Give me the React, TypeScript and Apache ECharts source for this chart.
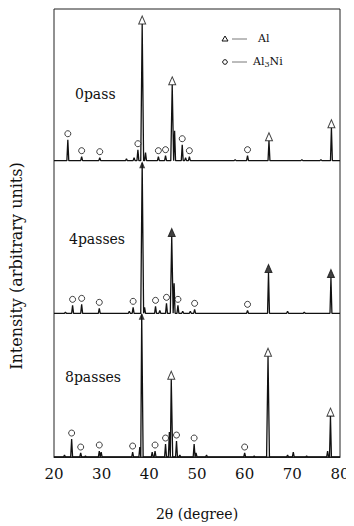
import React, { useEffect, useRef } from "react";
import * as echarts from "echarts";

// 2θ positions (degree) and peak heights (arbitrary units)
const patternNames = ["0pass", "4passes", "8passes"];
const baselines = [297, 144, 0];

// Al peaks: [2θ, height]
const al0 = [[38.5, 137], [44.8, 76], [65.1, 20], [78.2, 33]];
const al4 = [[38.5, 151], [44.7, 77], [65.0, 41], [78.1, 36]];
const al8 = [[38.4, 143], [44.6, 78], [64.9, 101], [78.0, 41]];

// Al3Ni peaks: [2θ, height]
const ni0 = [[22.9, 21], [25.8, 4], [29.6, 3], [37.6, 11], [41.9, 4], [43.4, 5], [46.9, 16], [48.4, 4], [60.6, 5]];
const ni4 = [[23.9, 8], [25.8, 9], [29.5, 5], [36.6, 6], [41.3, 7], [43.6, 10], [46.0, 8], [49.5, 4], [60.6, 3]];
const ni8 = [[23.7, 18], [25.6, 4], [29.5, 6], [36.5, 5], [41.2, 6], [43.4, 13], [45.7, 16], [49.4, 13], [60.0, 4]];

// small unlabeled reflections / noise bumps: [2θ, height]
const minor0 = [[35.2, 2], [36.8, 3], [39.2, 8], [45.3, 30], [47.6, 3], [58.0, 1], [72.0, 1], [76.0, 1]];
const minor4 = [[22.4, 1], [35.8, 2], [39.0, 6], [42.2, 3], [45.2, 30], [47.0, 2], [48.6, 2], [69.0, 2], [72.5, 1]];
const minor8 = [[22.2, 2], [26.6, 1], [29.9, 5], [38.0, 10], [40.6, 5], [44.2, 25], [46.4, 2], [49.8, 4], [52.0, 2], [62.0, 1], [69.0, 2], [70.2, 5], [73.0, 1], [77.4, 6]];

const alSets = [al0, al4, al8];
const niSets = [ni0, ni4, ni8];
const minorSets = [minor0, minor4, minor8];
// truncated peaks (marked with an arrow at the next pattern's baseline)
const truncated = [false, true, true];

const xTicks = [20, 30, 40, 50, 60, 70, 80];

function buildTrace(i: number) {
  const base = baselines[i];
  const peaks = [...alSets[i], ...niSets[i], ...minorSets[i]].sort((a, b) => a[0] - b[0]);
  const pts: number[][] = [[20, base]];
  for (const [x, h] of peaks) {
    const w = h > 50 ? 0.3 : 0.2;
    pts.push([x - w, base]);
    pts.push([x, base + h]);
    pts.push([x + w, base]);
  }
  pts.push([80, base]);
  return pts;
}

const FONT = "DejaVu Serif";

export default function App() {
  const ref = useRef<HTMLDivElement>(null);
  useEffect(() => {
    if (!ref.current) return;
    const chart = echarts.init(ref.current, null, { renderer: "svg" });
    const series: any[] = [];
    for (let i = 0; i < 3; i++) {
      const base = baselines[i];
      series.push({
        type: "line",
        data: buildTrace(i),
        showSymbol: false,
        symbol: "none",
        lineStyle: { color: "#111", width: 1.3 },
        z: 2,
      });
      const alMarks = alSets[i].map(([x, h], k) =>
        truncated[i] && k === 0 ? null : [x, base + h + 4]
      ).filter(Boolean);
      series.push({
        type: "scatter",
        data: alMarks,
        symbol: "triangle",
        symbolSize: [7, 8],
        itemStyle: { color: i === 1 ? "#111" : "#fff", borderColor: "#111", borderWidth: 1 },
        z: 3,
      });
      if (truncated[i]) {
        const [x, h] = alSets[i][0];
        series.push({
          type: "scatter",
          data: [[x, base + h - 2]],
          symbol: "triangle",
          symbolSize: [6, 7],
          itemStyle: { color: "#111" },
          z: 3,
        });
      }
      series.push({
        type: "scatter",
        data: niSets[i].map(([x, h]) => [x, base + h + 6]),
        symbol: "circle",
        symbolSize: 6,
        itemStyle: { color: "#fff", borderColor: "#111", borderWidth: 1 },
        z: 3,
      });
    }
    chart.setOption({
      animation: false,
      textStyle: { fontFamily: FONT },
      grid: { left: 53, right: 14, top: 9, bottom: 68, show: true, borderColor: "#222", borderWidth: 1 },
      xAxis: {
        type: "value",
        min: 20,
        max: 80,
        interval: 10,
        axisLine: { show: true, lineStyle: { color: "#222" } },
        axisTick: { show: false },
        splitLine: { show: false },
        axisLabel: {
          color: "#111",
          fontFamily: FONT,
          fontSize: 15,
          margin: 9,
          formatter: (v: number) => (xTicks.includes(v) ? String(v) : ""),
        },
        name: "2θ (degree)",
        nameLocation: "middle",
        nameGap: 50,
        nameTextStyle: { color: "#111", fontFamily: FONT, fontSize: 14 },
      },
      yAxis: {
        type: "value",
        min: 0,
        max: 449,
        axisLine: { show: false },
        axisTick: { show: false },
        axisLabel: { show: false },
        splitLine: { show: false },
        name: "Intensity (arbitrary units)",
        nameLocation: "middle",
        nameGap: 30,
        nameRotate: 90,
        nameTextStyle: { color: "#111", fontFamily: FONT, fontSize: 16, padding: [0, 66, 0, 0] },
      },
      series,
      graphic: [
        { type: "text", left: 75, top: 87, style: { text: patternNames[0], fontFamily: FONT, fontSize: 14, fill: "#111" } },
        { type: "text", left: 69, top: 232, style: { text: patternNames[1], fontFamily: FONT, fontSize: 14, fill: "#111" } },
        { type: "text", left: 65, top: 370, style: { text: patternNames[2], fontFamily: FONT, fontSize: 14, fill: "#111" } },
        { type: "polygon", shape: { points: [[225, 36], [222, 41], [228, 41]] }, style: { fill: "#fff", stroke: "#111", lineWidth: 1 } },
        { type: "line", shape: { x1: 232, y1: 39, x2: 247, y2: 39 }, style: { stroke: "#555", lineWidth: 0.8 } },
        { type: "text", left: 258, top: 33, style: { text: "Al", fontFamily: FONT, fontSize: 11, fill: "#111" } },
        { type: "circle", shape: { cx: 225, cy: 62, r: 2.3 }, style: { fill: "#fff", stroke: "#111", lineWidth: 1 } },
        { type: "line", shape: { x1: 232, y1: 62, x2: 247, y2: 62 }, style: { stroke: "#555", lineWidth: 0.8 } },
        {
          type: "text",
          left: 253,
          top: 56,
          style: {
            text: "{a|Al}{s|3}{a|Ni}",
            rich: {
              a: { fontFamily: FONT, fontSize: 11, fill: "#111" },
              s: { fontFamily: FONT, fontSize: 8, fill: "#111", padding: [6, 0, 0, 0] },
            },
          },
        },
      ],
    });
    return () => chart.dispose();
  }, []);
  return <div ref={ref} style={{ width: 354, height: 526, marginLeft: -8, marginTop: -8 }} />;
}
